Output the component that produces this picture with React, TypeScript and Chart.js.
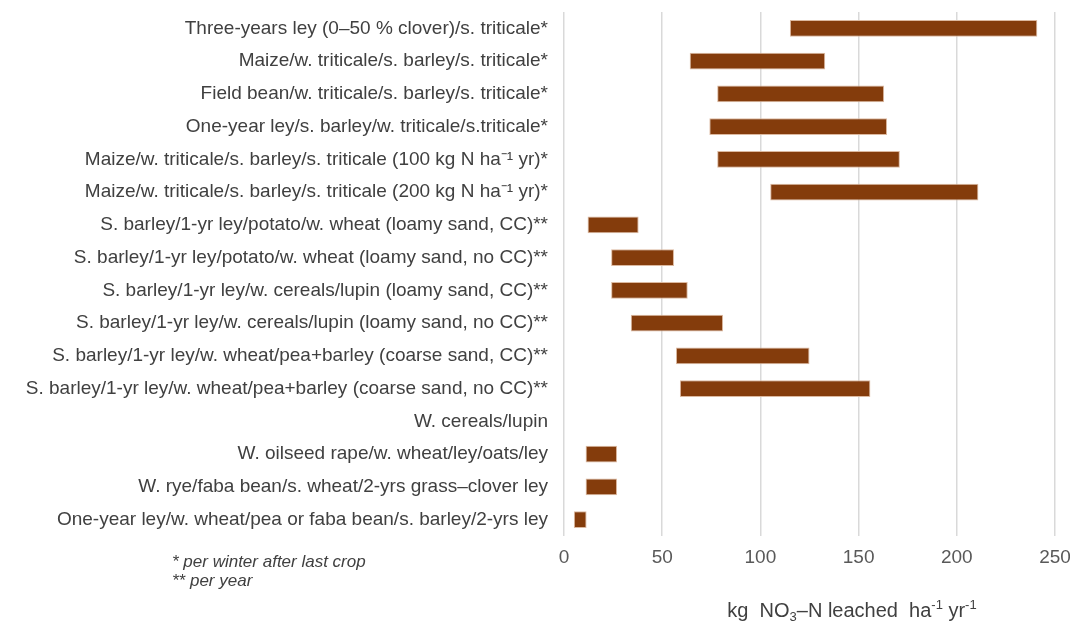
import React, { useEffect, useRef } from 'react';
import { Chart, registerables } from 'chart.js';

Chart.register(...registerables);

const CATEGORIES = [
  'Three-years ley (0–50 % clover)/s. triticale*',
  'Maize/w. triticale/s. barley/s. triticale*',
  'Field bean/w. triticale/s. barley/s. triticale*',
  'One-year ley/s. barley/w. triticale/s.triticale*',
  'Maize/w. triticale/s. barley/s. triticale (100 kg N ha⁻¹ yr)*',
  'Maize/w. triticale/s. barley/s. triticale (200 kg N ha⁻¹ yr)*',
  'S. barley/1-yr ley/potato/w. wheat (loamy sand, CC)**',
  'S. barley/1-yr ley/potato/w. wheat (loamy sand, no CC)**',
  'S. barley/1-yr ley/w. cereals/lupin (loamy sand, CC)**',
  'S. barley/1-yr ley/w. cereals/lupin (loamy sand, no CC)**',
  'S. barley/1-yr ley/w. wheat/pea+barley (coarse sand, CC)**',
  'S. barley/1-yr ley/w. wheat/pea+barley (coarse sand, no CC)**',
  'W. cereals/lupin',
  'W. oilseed rape/w. wheat/ley/oats/ley',
  'W. rye/faba bean/s. wheat/2-yrs grass–clover ley',
  'One-year ley/w. wheat/pea or faba bean/s. barley/2-yrs ley',
];

const LEACHING_MIN: (number | null)[] = [115, 64, 78, 74, 78, 105, 12, 24, 24, 34, 57, 59, null, 11, 11, 5];
const LEACHING_MAX: (number | null)[] = [241, 133, 163, 164.5, 171, 211, 38, 56, 63, 81, 125, 156, null, 27, 27, 11.5];

const X_TICKS = [0, 50, 100, 150, 200, 250];
const FOOTNOTES = ['* per winter after last crop', '** per year'];
// axis title parts: text and shift (0 normal, -1 subscript, 1 superscript)
const AXIS_TITLE_PARTS: [string, number][] = [
  ['kg  NO', 0],
  ['3', -1],
  ['–N leached  ha', 0],
  ['-1', 1],
  [' yr', 0],
  ['-1', 1],
];

const FONT = '"Liberation Sans", Arial, Helvetica, sans-serif';

const textPlugin = {
  id: 'extraText',
  afterDraw(chart: any) {
    const ctx = chart.ctx as CanvasRenderingContext2D;
    ctx.save();
    ctx.fillStyle = '#404040';
    ctx.textAlign = 'left';
    ctx.textBaseline = 'alphabetic';
    ctx.font = `italic 17px ${FONT}`;
    ctx.fillText(FOOTNOTES[0], 172, 567);
    ctx.fillText(FOOTNOTES[1], 172, 586);

    // axis title with sub/superscripts
    const big = `20px ${FONT}`;
    const small = `13px ${FONT}`;
    let total = 0;
    for (const [t, s] of AXIS_TITLE_PARTS) {
      ctx.font = s === 0 ? big : small;
      total += ctx.measureText(t).width;
    }
    const cx = 852;
    const baseY = 617;
    let x = cx - total / 2;
    for (const [t, s] of AXIS_TITLE_PARTS) {
      ctx.font = s === 0 ? big : small;
      const dy = s === 0 ? 0 : s < 0 ? 4 : -8;
      ctx.fillText(t, x, baseY + dy);
      x += ctx.measureText(t).width;
    }
    ctx.restore();
  },
};

export default function App() {
  const ref = useRef<HTMLCanvasElement | null>(null);

  useEffect(() => {
    if (!ref.current) return;
    const data = LEACHING_MIN.map((lo, i) => {
      const hi = LEACHING_MAX[i];
      return lo == null || hi == null ? null : [lo, hi];
    });
    const chart = new Chart(ref.current, {
      type: 'bar',
      data: {
        labels: CATEGORIES,
        datasets: [
          {
            label: 'NO3-N leached',
            data: data as any,
            backgroundColor: '#843C0C',
            borderColor: '#dcb9a0',
            borderWidth: 1,
            borderSkipped: false,
            barPercentage: 0.51,
            categoryPercentage: 1,
          },
        ],
      },
      options: {
        indexAxis: 'y',
        responsive: false,
        animation: false,
        devicePixelRatio: 1,
        layout: { padding: { top: 12, right: 15, bottom: 0, left: 0 } },
        plugins: {
          legend: { display: false },
          tooltip: { enabled: false },
        },
        scales: {
          x: {
            type: 'linear',
            min: 0,
            max: 250,
            afterBuildTicks: (s: any) => {
              s.ticks = X_TICKS.map((v) => ({ value: v }));
            },
            afterFit: (s: any) => {
              s.height = 87;
              s.paddingLeft = 0;
              s.paddingRight = 0;
            },
            grid: { color: '#d9d9d9', lineWidth: 1.5, drawTicks: false },
            border: { display: false },
            ticks: {
              color: '#595959',
              padding: 10,
              font: { family: FONT, size: 19 },
            },
          },
          y: {
            type: 'category',
            afterFit: (s: any) => {
              s.width = 564;
              s.paddingTop = 0;
              s.paddingBottom = 0;
            },
            grid: { display: false, drawTicks: false },
            border: { display: false },
            ticks: {
              color: '#404040',
              padding: 16,
              autoSkip: false,
              font: { family: FONT, size: 19 },
            },
          },
        },
      },
      plugins: [textPlugin],
    });
    return () => chart.destroy();
  }, []);

  return (
    <div style={{ position: 'absolute', left: 0, top: 0, width: 1070, height: 623, background: '#fff' }}>
      <canvas ref={ref} width={1070} height={623} style={{ width: 1070, height: 623 }} />
    </div>
  );
}
